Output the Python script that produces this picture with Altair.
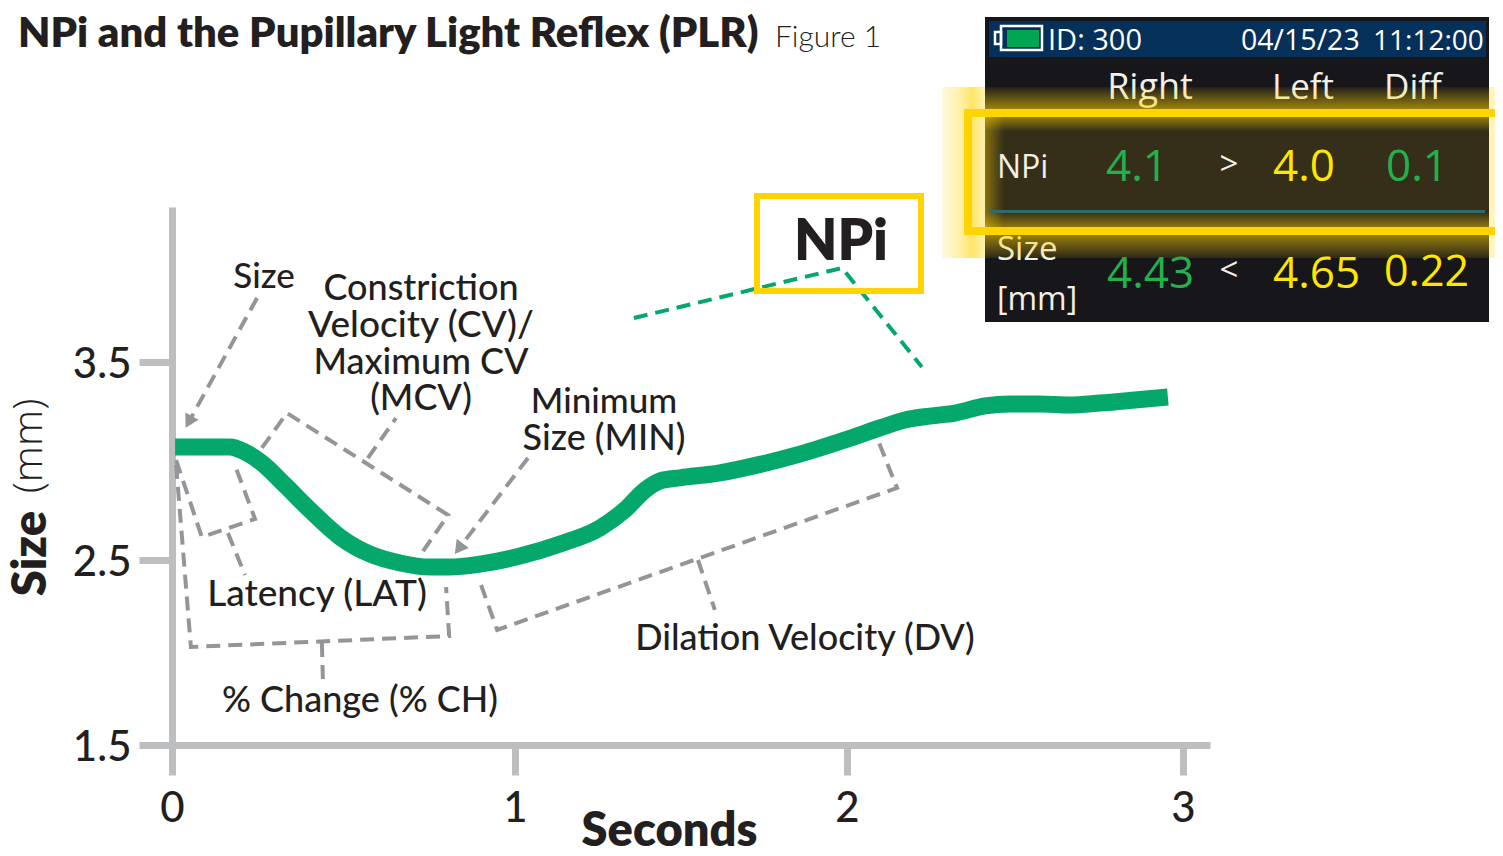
import altair as alt
import pandas as pd

seconds = [.009,.169,.213,.262,.329,.402,.490,.577,.665,.752,.810,.898,1.015,1.136,1.256,1.331,1.392,1.437,1.497,1.617,1.738,1.858,2.009,2.098,2.173,2.247,2.321,2.411,2.485,2.574,2.664,2.753,2.857,2.955]
size_mm = [3.071,3.071,3.045,2.990,2.879,2.753,2.616,2.530,2.484,2.462,2.462,2.478,2.520,2.581,2.662,2.753,2.854,2.900,2.915,2.940,2.983,3.035,3.115,3.167,3.207,3.227,3.242,3.278,3.288,3.288,3.283,3.293,3.308,3.323]

x_ticks = [0, 1, 2, 3]
y_ticks = [1.5, 2.5, 3.5]

# guide paths, in seconds / mm
grey_paths = [
    ([.012,.087,.242,.181], [3.005,2.616,2.707,2.990]),
    ([.163,.213], [2.636,2.419]),
    ([.012,.055,.808,.799], [2.980,2.030,2.089,2.354]),
    ([.437,.440], [2.051,1.851]),
    ([.262,.335,.805,.732], [3.066,3.242,2.727,2.545]),
    ([.571,.653], [3.015,3.217]),
    ([.248,.052], [3.823,3.207]),
    ([1.039,.840], [3.015,2.566]),
    ([.901,.948,2.149,2.092], [2.365,2.122,2.864,3.106]),
    ([1.551,1.602], [2.500,2.230]),
]
green_path = ([1.358,1.985,2.223], [3.722,3.975,3.475])
arrow_heads = ([.052,.840], [3.207,2.566], [209,217])

LEFT, TOP = 172, 207
W, H = 1038, 538
GREY = "#bcbec0"
DASH = "#939598"
GREEN = "#05a86b"
INK = "#231f20"
GOLD = "#ffd400"
FONT = "Lato"
PANEL_FONT = "Open Sans"

x_scale = alt.Scale(domain=[0, 1, 2, 3, 3.0805], range=[0, 343, 675, 1011, 1038], nice=False, zero=False)
y_scale = alt.Scale(domain=[1.5, 2.5, 3.5, 4.283], range=[538, 353, 155, 0], nice=False, zero=False)

x_axis = alt.Axis(
    values=x_ticks, title="Seconds", format="d", grid=False,
    domainColor=GREY, domainWidth=7, tickColor=GREY, tickWidth=7, tickSize=30,
    labelFontSize=42, labelFont=FONT, labelFontWeight=500, labelColor=INK, labelPadding=13,
    labelFlush=False, labelOverlap=False,
    titleFontSize=47, titleFont=FONT, titleFontWeight=800, titleColor=INK,
    titleX=497, titleY=100, titleBaseline="alphabetic", titleAnchor="middle", titleAlign="center")
y_axis = alt.Axis(
    values=y_ticks, title="Size", grid=False,
    labelExpr="datum.value == 1.5 ? '1.5\u00a0\u00a0' : format(datum.value, '.1f')",
    domainColor=GREY, domainWidth=7, tickColor=GREY, tickWidth=7, tickSize=33,
    labelFontSize=42, labelFont=FONT, labelFontWeight=500, labelColor=INK, labelPadding=8,
    labelOffset=2, labelFlush=False, labelOverlap=False, labelBaseline="middle",
    titleFontSize=47, titleFont=FONT, titleFontWeight=800, titleColor=INK,
    titleAngle=270, titleX=-127, titleY=346, titleBaseline="alphabetic", titleAlign="center")
X = alt.X("s:Q", scale=x_scale, axis=x_axis)
Y = alt.Y("m:Q", scale=y_scale, axis=y_axis)


def text(label, px, py, size, color=INK, align="left", weight=500, font=FONT, angle=0):
    return alt.Chart().mark_text(
        text=label, align=align, baseline="alphabetic", fontSize=size,
        fontWeight=weight, font=font, color=color, angle=angle,
    ).encode(x=alt.value(px - LEFT), y=alt.value(py - TOP))


def box(x0, x1, y0, y1, **kw):
    return alt.Chart().mark_rect(**kw).encode(
        x=alt.value(x0 - LEFT), x2=alt.value(x1 - LEFT),
        y=alt.value(y0 - TOP), y2=alt.value(y1 - TOP))


def grad(stops, vertical=True):
    return alt.LinearGradient(
        gradient="linear",
        stops=[alt.GradientStop(color=f"rgba(255,212,0,{a})", offset=o) for o, a in stops],
        x1=0, x2=0 if vertical else 1, y1=0, y2=1 if vertical else 0)


def path(xs, ys, color, width=4):
    df = pd.DataFrame({"s": xs, "m": ys, "i": range(len(xs))})
    return alt.Chart(df).mark_line(
        color=color, strokeWidth=width, strokeDash=[14, 8], strokeCap="butt", strokeJoin="miter"
    ).encode(x=X, y=Y, order="i:Q")


curve = alt.Chart(pd.DataFrame({"s": seconds, "m": size_mm})).mark_line(
    color=GREEN, strokeWidth=17, interpolate="monotone", strokeCap="butt"
).encode(x=X, y=Y)

heads = alt.Chart(pd.DataFrame({"s": arrow_heads[0], "m": arrow_heads[1], "a": arrow_heads[2]})).mark_point(
    shape="triangle", filled=True, color=DASH, size=230, opacity=1
).encode(x=X, y=Y, angle=alt.Angle("a:Q", scale=None))

layers = [curve]
layers += [path(a, b, DASH) for a, b in grey_paths]
layers += [heads, path(green_path[0], green_path[1], GREEN)]

# labels
C = "center"
layers += [
    text("NPi and the Pupillary Light Reflex (PLR)", 18, 47, 41.8, weight=800),
    text("Figure 1", 775, 47, 30, weight=300),
    text("(mm)", 42, 446, 41, weight=300, align=C, angle=270, font=PANEL_FONT),
    text("Size", 264, 288, 35, align=C),
    text("Constriction", 421, 300, 36, align=C),
    text("Velocity (CV)/", 421, 337, 37, align=C),
    text("Maximum CV", 421, 374, 36, align=C),
    text("(MCV)", 421, 410, 36, align=C),
    text("Minimum", 604, 413, 35, align=C),
    text("Size (MIN)", 604, 450, 36, align=C),
    text("Latency (LAT)", 317, 606, 37, align=C),
    text("Dilation Velocity (DV)", 805, 650, 36, align=C),
    text("% Change (% CH)", 360, 712, 36, align=C),
    box(757, 921, 196, 291, fill="transparent", stroke=GOLD, strokeWidth=6),
    text("NPi", 841, 260, 56, weight=800, align=C),
]

# device panel
PALE = "#f2f0e6"
LIME = "#22b24c"
YEL = "#ffe600"
layers += [
    box(985, 1489, 17, 322, fill="#17161b"),
    box(989, 1486, 21, 57, fill="#04305a"),
    text("Right", 1150, 99, 36, PALE, C, 400, PANEL_FONT),
    text("Left", 1303, 99, 35, PALE, C, 400, PANEL_FONT),
    text("Diff", 1413, 99, 35, PALE, C, 400, PANEL_FONT),
    text("Size", 997, 260, 33, PALE, "left", 400, PANEL_FONT),
    box(942, 985, 87, 258, fill=grad([(0, .12), (.5, .4), (.7, .6), (1, .3)], vertical=False)),
    box(1489, 1503, 87, 258, fill=grad([(0, .3), (1, .12)], vertical=False)),
    box(985, 1489, 87, 258, fill=grad([(0, .06), (.135, .6), (.175, .55), (.26, .13), (.731, .13), (.819, .5), (.865, .55), (1, .1)])),
    box(985, 1004, 117, 227, fill=grad([(0, .4), (1, 0)], vertical=False)),
    box(989, 1485, 210, 213, fill="#2f6b6b"),
    box(968, 1520, 113, 231, fill="transparent", stroke=GOLD, strokeWidth=8),
    box(1007, 1039, 30, 47, fill="#00a651"),
    box(1001, 1042, 26, 50, fill="transparent", stroke="#ffffff", strokeWidth=2.5),
    box(995, 1001, 32, 44, fill="transparent", stroke="#ffffff", strokeWidth=2.5),
    text("ID: 300", 1048, 50, 29, "#ffffff", "left", 400, PANEL_FONT),
    text("04/15/23", 1241, 50, 28.5, "#ffffff", "left", 400, PANEL_FONT),
    text("11:12:00", 1373, 50, 28, "#ffffff", "left", 400, PANEL_FONT),
    text("NPi", 997, 178, 32, PALE, "left", 400, PANEL_FONT),
    text("4.1", 1106, 181, 44, LIME, "left", 400, PANEL_FONT),
    text(">", 1229, 175, 33, PALE, C, 400, PANEL_FONT),
    text("4.0", 1273, 181, 44, YEL, "left", 400, PANEL_FONT),
    text("0.1", 1386, 181, 44, LIME, "left", 400, PANEL_FONT),
    text("[mm]", 997, 310, 32, PALE, "left", 400, PANEL_FONT),
    text("4.43", 1107, 288, 44, LIME, "left", 400, PANEL_FONT),
    text("<", 1229, 281, 33, PALE, C, 400, PANEL_FONT),
    text("4.65", 1273, 288, 44, YEL, "left", 400, PANEL_FONT),
    text("0.22", 1384, 286, 43, YEL, "left", 400, PANEL_FONT),
]

chart = alt.layer(*layers).properties(
    width=W, height=H,
    autosize=alt.AutoSizeParams(type="none"),
    padding={"left": LEFT - 8, "top": TOP - 8, "right": 1495 - LEFT - W, "bottom": 848 - TOP - H},
    background="white",
).configure_view(stroke=None)

chart.save("out.html", embed_options={"renderer": "svg", "actions": False})
